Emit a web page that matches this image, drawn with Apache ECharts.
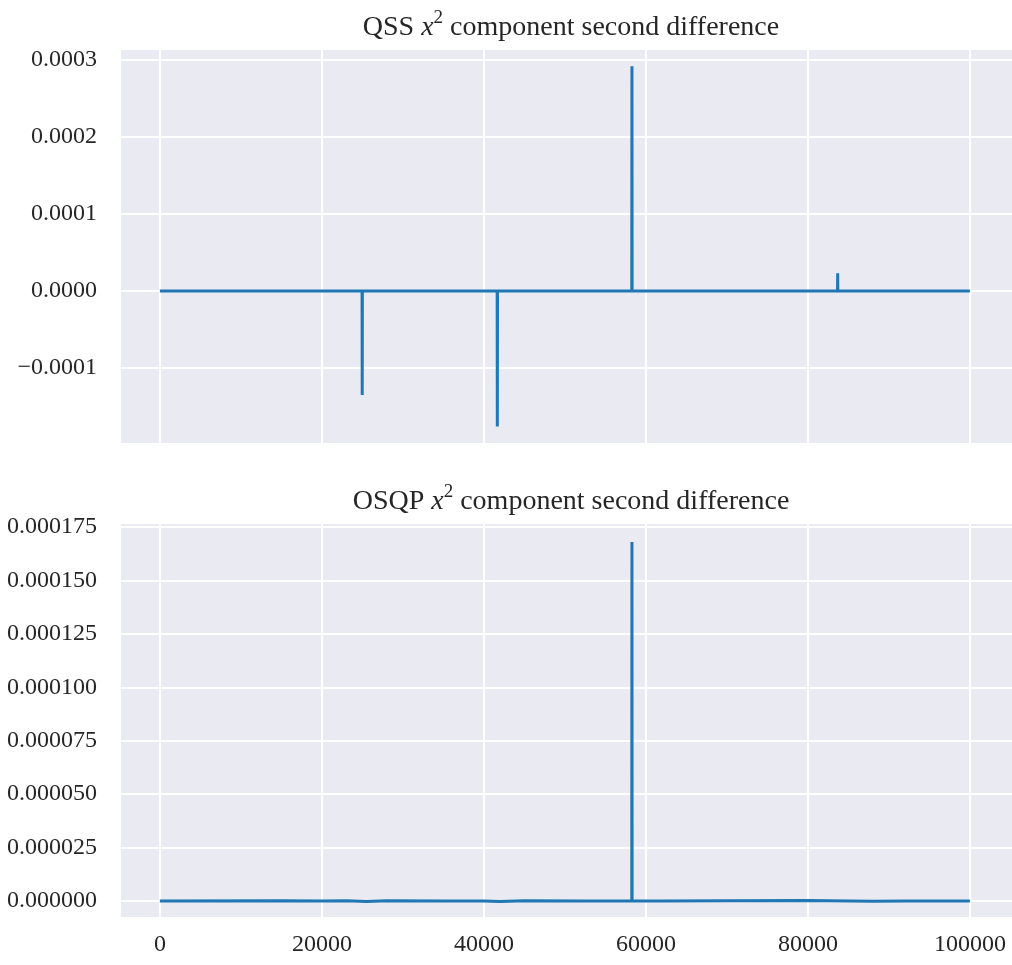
<!DOCTYPE html>
<html>
<head>
<meta charset="utf-8">
<script src="https://cdn.jsdelivr.net/npm/echarts@6/dist/echarts.min.js"></script>
<style>
  html, body { margin: 0; padding: 0; background: #ffffff; }
  #chart { width: 1012px; height: 965px; }
</style>
</head>
<body>
<div id="chart"></div>
<script>
// Iteration index and second-difference values of the x^2 component (sparse: baseline + spikes)
const qssX = [0, 24960, 24980, 25000, 25020, 41640, 41660, 41680, 41700, 58260, 58280, 58300, 58320, 83660, 83680, 83700, 83720, 99999];
const qssY = [0, 0, -0.000135, 0, 0, 0, -0.000176, 0, 0, 0, 0.000292, 0, 0, 0, 0.000023, 0, 0, 0];

const osqpX = [0, 15000, 20000, 23000, 25500, 28000, 35000, 40000, 42000, 45000, 52000, 58260, 58280, 58300, 58320, 62000, 70000, 80000, 88000, 92000, 99999];
const osqpY = [0, 0.0000001, 0, 0.0000001, -0.0000003, 0.0000001, 0, 0, -0.0000002, 0.0000001, 0, 0, 0.000168, 0, 0.0000001, 0, 0.0000001, 0.0000002, -0.0000001, 0, 0];

// Tick values shown on each axis
const xTicks = [0, 20000, 40000, 60000, 80000, 100000];
const qssTicks = [-0.0001, 0, 0.0001, 0.0002, 0.0003];
const osqpTicks = [0, 0.000025, 0.00005, 0.000075, 0.0001, 0.000125, 0.00015, 0.000175];

const FONT = '"Liberation Serif", "DejaVu Serif", serif';
const TEXT = '#262626';
const LINE = '#1f77b4';

function pairs(xs, ys) { return xs.map((x, i) => [x, ys[i]]); }
function fmt(v, d) {
  const s = Math.abs(v).toFixed(d);
  return (v < -1e-12 ? '\u2212' : '') + s;
}

const titleRich = {
  n: { fontFamily: FONT, fontSize: 28, fontWeight: 'normal', color: TEXT },
  i: { fontFamily: FONT, fontSize: 28, fontWeight: 'normal', fontStyle: 'italic', color: TEXT },
  s: { fontFamily: FONT, fontSize: 19, fontWeight: 'normal', color: TEXT, padding: [0, 0, 18, 0] }
};

function xAxisCfg(idx, showLabels) {
  return {
    type: 'value', gridIndex: idx, min: -4800, max: 105200,
    axisLine: { show: false }, axisTick: { show: false, customValues: xTicks },
    axisLabel: { show: showLabels, customValues: xTicks, fontFamily: FONT, fontSize: 24, color: TEXT, margin: 16,
      formatter: v => String(v) },
    splitLine: { show: true, lineStyle: { color: '#ffffff', width: 2 } }
  };
}
function yAxisCfg(idx, min, max, ticks, digits) {
  return {
    type: 'value', gridIndex: idx, min: min, max: max,
    axisLine: { show: false }, axisTick: { show: false, customValues: ticks },
    axisLabel: { customValues: ticks, fontFamily: FONT, fontSize: 24, color: TEXT, margin: 24,
      formatter: v => fmt(v, digits) },
    splitLine: { show: true, lineStyle: { color: '#ffffff', width: 2 } }
  };
}

const chart = echarts.init(document.getElementById('chart'));
chart.setOption({
  animation: false,
  backgroundColor: '#ffffff',
  title: [
    { text: '{n|QSS }{i|x}{s|2}{n| component second difference}', left: 566, top: 4, textAlign: 'center',
      textStyle: { rich: titleRich } },
    { text: '{n|OSQP }{i|x}{s|2}{n| component second difference}', left: 566, top: 478, textAlign: 'center',
      textStyle: { rich: titleRich } }
  ],
  grid: [
    { left: 121, top: 50, width: 894, height: 393, show: true, backgroundColor: '#EAEAF2', borderWidth: 0 },
    { left: 121, top: 524, width: 894, height: 393, show: true, backgroundColor: '#EAEAF2', borderWidth: 0 }
  ],
  xAxis: [xAxisCfg(0, false), xAxisCfg(1, true)],
  yAxis: [
    yAxisCfg(0, -0.0001974, 0.000313, qssTicks, 4),
    yAxisCfg(1, -0.0000075, 0.0001764, osqpTicks, 6)
  ],
  series: [
    { type: 'line', xAxisIndex: 0, yAxisIndex: 0, data: pairs(qssX, qssY), showSymbol: false,
      lineStyle: { color: LINE, width: 3 } },
    { type: 'line', xAxisIndex: 1, yAxisIndex: 1, data: pairs(osqpX, osqpY), showSymbol: false,
      lineStyle: { color: LINE, width: 3 } }
  ]
});
</script>
</body>
</html>
